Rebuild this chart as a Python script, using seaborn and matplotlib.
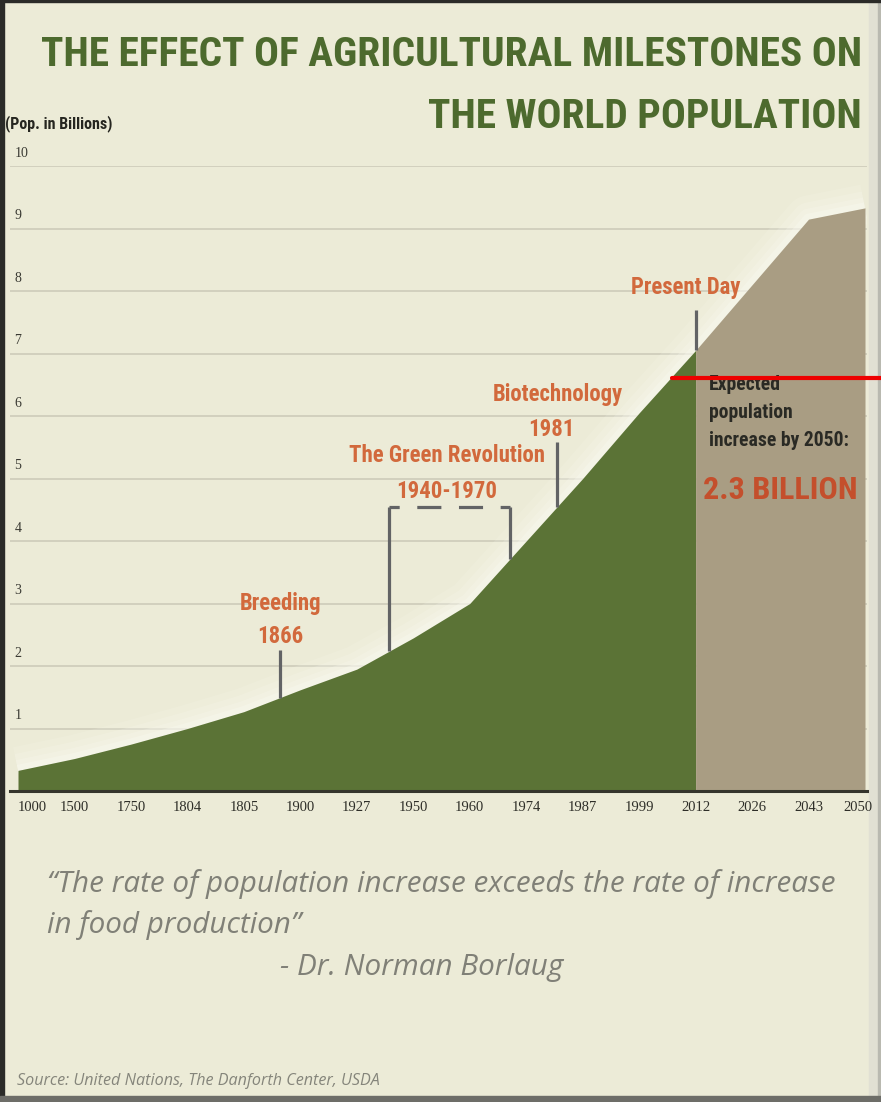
import numpy as np
import pandas as pd
import matplotlib
matplotlib.use("Agg")
import matplotlib.pyplot as plt
import matplotlib.transforms as mtransforms
from matplotlib import font_manager
from matplotlib.lines import Line2D
from matplotlib.patches import Rectangle
import seaborn as sns

# ---- data -----------------------------------------------------------------
years = ["1000", "1500", "1750", "1804", "1805", "1900", "1927", "1950",
         "1960", "1974", "1987", "1999", "2012", "2026", "2043", "2050"]
population = [0.33, 0.52, 0.75, 1.00, 1.27, 1.62, 1.95, 2.45,
              3.00, 4.00, 5.00, 6.05, 7.05, 8.10, 9.15, 9.33]
present_year = "2012"
y_ticks = [1, 2, 3, 4, 5, 6, 7, 8, 9, 10]

breeding_year = 1866
green_rev_years = (1940, 1970)
biotech_year = 1981
expected_increase = "2.3 BILLION"

# ---- fonts ----------------------------------------------------------------
_fonts = font_manager.fontManager.ttflist
_names = {f.name for f in _fonts}


def pick(*cands, default="DejaVu Sans"):
    for c in cands:
        if c in _names:
            return c
    return default


COND = pick("Liberation Sans Narrow", "Roboto Condensed", "Open Sans Condensed",
            "PT Sans Narrow", "Roboto")
COND_STRETCH = "normal"
if COND in ("Roboto", "DejaVu Sans"):
    if any(f.name == "DejaVu Sans" and f.stretch == "condensed" for f in _fonts):
        COND, COND_STRETCH = "DejaVu Sans", "condensed"
SERIF = pick("Liberation Serif", "DejaVu Serif")
ITAL = pick("Open Sans", "Noto Sans", "Lato")

# ---- palette --------------------------------------------------------------
PAPER = "#ecebd7"
GREEN = "#5b7336"
TAN = "#a99d83"
GRID = "#cbc9b7"
TITLE = "#4d6a2e"
ORANGE = "#d2693c"
RED_TXT = "#c44f2c"
STEM = "#626365"

W, H = 881, 1102
sns.set_theme(style="white")
plt.rcParams["font.family"] = [COND, "DejaVu Sans"]
plt.rcParams["lines.scale_dashes"] = False

fig = plt.figure(figsize=(W / 100, H / 100), dpi=100, facecolor=PAPER)


def fx(px):
    return px / W


def fy(py):
    return 1 - py / H


# plot area: x from 10 to 867 px, y=0 at 791 px, y=10 at 166 px
ax = fig.add_axes([fx(10), fy(791), fx(867) - fx(10), fy(166) - fy(791)])
ax.set_facecolor("none")
ax.set_zorder(2)

pos = np.arange(len(years))
yr_num = np.array([int(y) for y in years], dtype=float)
pop = np.array(population)
i_now = years.index(present_year)

unit = (855 - 8) / (len(years) - 1)
ax.set_xlim(-8 / unit, (len(years) - 1) + 2 / unit)
ax.set_ylim(0, 10)

df = pd.DataFrame({"pos": pos, "pop": pop})

# soft light halo hugging the top of the population curve
for lw, a in [(34, 0.14), (24, 0.18), (15, 0.24), (8, 0.32)]:
    sns.lineplot(data=df, x="pos", y="pop", ax=ax, color="#fbfbf2",
                 linewidth=lw, alpha=a, zorder=2, legend=False,
                 solid_capstyle="butt", solid_joinstyle="round")

# observed population (green) and projection (tan)
ax.fill_between(pos[: i_now + 1], 0, pop[: i_now + 1], color=GREEN,
                linewidth=0, zorder=3)
ax.fill_between(pos[i_now:], 0, pop[i_now:], color=TAN, linewidth=0, zorder=3)

# grid and axis
ax.set_yticks(y_ticks)
ax.grid(axis="y", color=GRID, linewidth=1.1, zorder=1)
ax.grid(axis="x", visible=False)
for side in ("top", "right", "left"):
    ax.spines[side].set_visible(False)
ax.spines["bottom"].set_color("#35352c")
ax.spines["bottom"].set_linewidth(2.2)
ax.spines["bottom"].set_zorder(5)
ax.tick_params(axis="y", length=0, labelleft=False)
ax.set_xticks(pos)
ax.set_xticklabels(years, fontfamily=SERIF, fontsize=10.5, color="#2e2e28")
ax.tick_params(axis="x", length=0, pad=7)
ax.get_xticklabels()[0].set_horizontalalignment("left")
ax.get_xticklabels()[-1].set_horizontalalignment("right")
ax.get_xticklabels()[-1].set_transform(
    ax.get_xaxis_transform() + mtransforms.ScaledTranslation(8 / 100, 0, fig.dpi_scale_trans)
    + mtransforms.ScaledTranslation(0, -7 / 72, fig.dpi_scale_trans))
ax.set_xlabel("")
ax.set_ylabel("")

blend = mtransforms.blended_transform_factory(ax.transAxes, ax.transData)
for v in y_ticks:
    ax.text(0.005, v + 0.1, str(v), transform=blend, ha="left", va="bottom",
            fontfamily=SERIF, fontsize=10, color="#3a3a33", zorder=4)


# ---- milestone stems ------------------------------------------------------
def year_pos(y):
    return float(np.interp(y, yr_num, pos))


def curve_at(p):
    return float(np.interp(p, pos, pop))


LW_STEM = 2.3
stem_kw = dict(color=STEM, linewidth=LW_STEM, zorder=4, solid_capstyle="butt")

p_breed = year_pos(breeding_year)
ax.plot([p_breed, p_breed], [curve_at(p_breed), 2.26], **stem_kw)

p_g0, p_g1 = (year_pos(y) for y in green_rev_years)
top_g = 4.54
ax.plot([p_g0, p_g0], [curve_at(p_g0), top_g], **stem_kw)
ax.plot([p_g1, p_g1], [curve_at(p_g1), top_g], **stem_kw)
# bracket top: short corners with two dashes between them
span_pt = (p_g1 - p_g0) * unit * 0.72
parts = np.array([11, 19, 26, 19, 26, 19, 11], dtype=float)
parts = parts / parts.sum() * span_pt
ax.plot([p_g0, p_g1], [top_g, top_g], color=STEM, linewidth=LW_STEM, zorder=4,
        linestyle=(0, tuple(parts) + (200,)), dash_capstyle="butt")

p_bio = year_pos(biotech_year)
ax.plot([p_bio, p_bio], [curve_at(p_bio), 5.58], **stem_kw)

p_now = float(i_now)
ax.plot([p_now, p_now], [pop[i_now], 7.7], **stem_kw)

# ---- text helpers ---------------------------------------------------------
renderer = fig.canvas.get_renderer()


def fit(t, width_px):
    w = t.get_window_extent(renderer).width
    t.set_fontsize(t.get_fontsize() * width_px / w)
    return t.get_fontsize()


lab_kw = dict(color=ORANGE, fontweight="bold", fontfamily=[COND, "DejaVu Sans"],
              fontstretch=COND_STRETCH, ha="center", va="center", zorder=6)
t = ax.text((p_g0 + p_g1) / 2 - 0.05, 5.36, "The Green Revolution", fontsize=14, **lab_kw)
fs_lab = fit(t, 197)
ax.text((p_g0 + p_g1) / 2 - 0.05, 4.80, f"{green_rev_years[0]}-{green_rev_years[1]}",
        fontsize=fs_lab, **lab_kw)
ax.text(p_breed, 3.0, "Breeding", fontsize=fs_lab, **lab_kw)
ax.text(p_breed, 2.47, str(breeding_year), fontsize=fs_lab, **lab_kw)
ax.text(p_bio + 0.02, 6.34, "Biotechnology", fontsize=fs_lab, **lab_kw)
ax.text(p_bio - 0.1, 5.78, str(biotech_year), fontsize=fs_lab, **lab_kw)
ax.text(p_now - 0.17, 8.05, "Present Day", fontsize=fs_lab, **lab_kw)

# projection note
note_kw = dict(color="#2a2a24", fontweight="bold", fontfamily=[COND, "DejaVu Sans"],
               fontstretch=COND_STRETCH, ha="left", va="center", zorder=6)
t = fig.text(fx(709), fy(441), "increase by 2050:", fontsize=13, **note_kw)
fs_note = fit(t, 139)
fig.text(fx(709), fy(413), "population", fontsize=fs_note, **note_kw)
fig.text(fx(709), fy(385), "Expected", fontsize=fs_note, **note_kw)
t = fig.text(fx(703), fy(490), expected_increase, color=RED_TXT, fontsize=26,
             fontweight="bold", fontfamily=[COND, "DejaVu Sans"],
             fontstretch=COND_STRETCH, ha="left", va="center", zorder=6)
fit(t, 155)

# ---- title ----------------------------------------------------------------
title_kw = dict(color=TITLE, fontweight="bold", fontfamily=[COND, "DejaVu Sans"],
                fontstretch=COND_STRETCH, ha="right", va="baseline")
t = fig.text(fx(862), fy(66), "THE EFFECT OF AGRICULTURAL MILESTONES ON",
             fontsize=36, **title_kw)
fs_title = fit(t, 820)
fig.text(fx(862), fy(128), "THE WORLD POPULATION", fontsize=fs_title, **title_kw)

t = fig.text(fx(5), fy(124), "(Pop. in Billions)", color="#262620", fontsize=10,
             fontweight="bold", fontfamily=[COND, "DejaVu Sans"],
             fontstretch=COND_STRETCH, ha="left", va="center")
fit(t, 108)

# ---- quote and source -----------------------------------------------------
q_kw = dict(color="#808077", fontstyle="italic", fontfamily=[ITAL, "DejaVu Sans"],
            ha="left", va="center")
t = fig.text(fx(47), fy(884),
             "\u201cThe rate of population increase exceeds the rate of increase",
             fontsize=20, **q_kw)
fs_q = fit(t, 789)
fig.text(fx(47), fy(925), "in food production\u201d", fontsize=fs_q, **q_kw)
fig.text(fx(280), fy(968), "- Dr. Norman Borlaug", fontsize=fs_q, **q_kw)

t = fig.text(fx(17), fy(1081), "Source: United Nations, The Danforth Center, USDA",
             color="#85857b", fontsize=10, fontstyle="italic",
             fontfamily=[ITAL, "DejaVu Sans"], ha="left", va="center")
fit(t, 363)

# ---- frame ----------------------------------------------------------------
fig.patches.extend([
    Rectangle((fx(869), 0), 1 - fx(869), 1, transform=fig.transFigure,
              color="#e1e0d3", zorder=-1),
    Rectangle((fx(878), 0), 1 - fx(878), 1, transform=fig.transFigure,
              color="#b9b9b0", zorder=-1),
    Rectangle((0, 0), fx(4), 1, transform=fig.transFigure, color="#2b2b28", zorder=10),
    Rectangle((0, fy(2)), 1, 2 / H, transform=fig.transFigure,
              color="#2b2b28", zorder=10),
    Rectangle((0, 0), 1, (H - 1096) / H,
              transform=fig.transFigure, color="#6d6d68", zorder=10),
])
fig.lines.append(Line2D([fx(672), 1.0], [fy(378), fy(378)], transform=fig.transFigure,
                        color="#ee0000", linewidth=3.0, zorder=11))

fig.savefig("out.png", dpi=100, facecolor=PAPER)
